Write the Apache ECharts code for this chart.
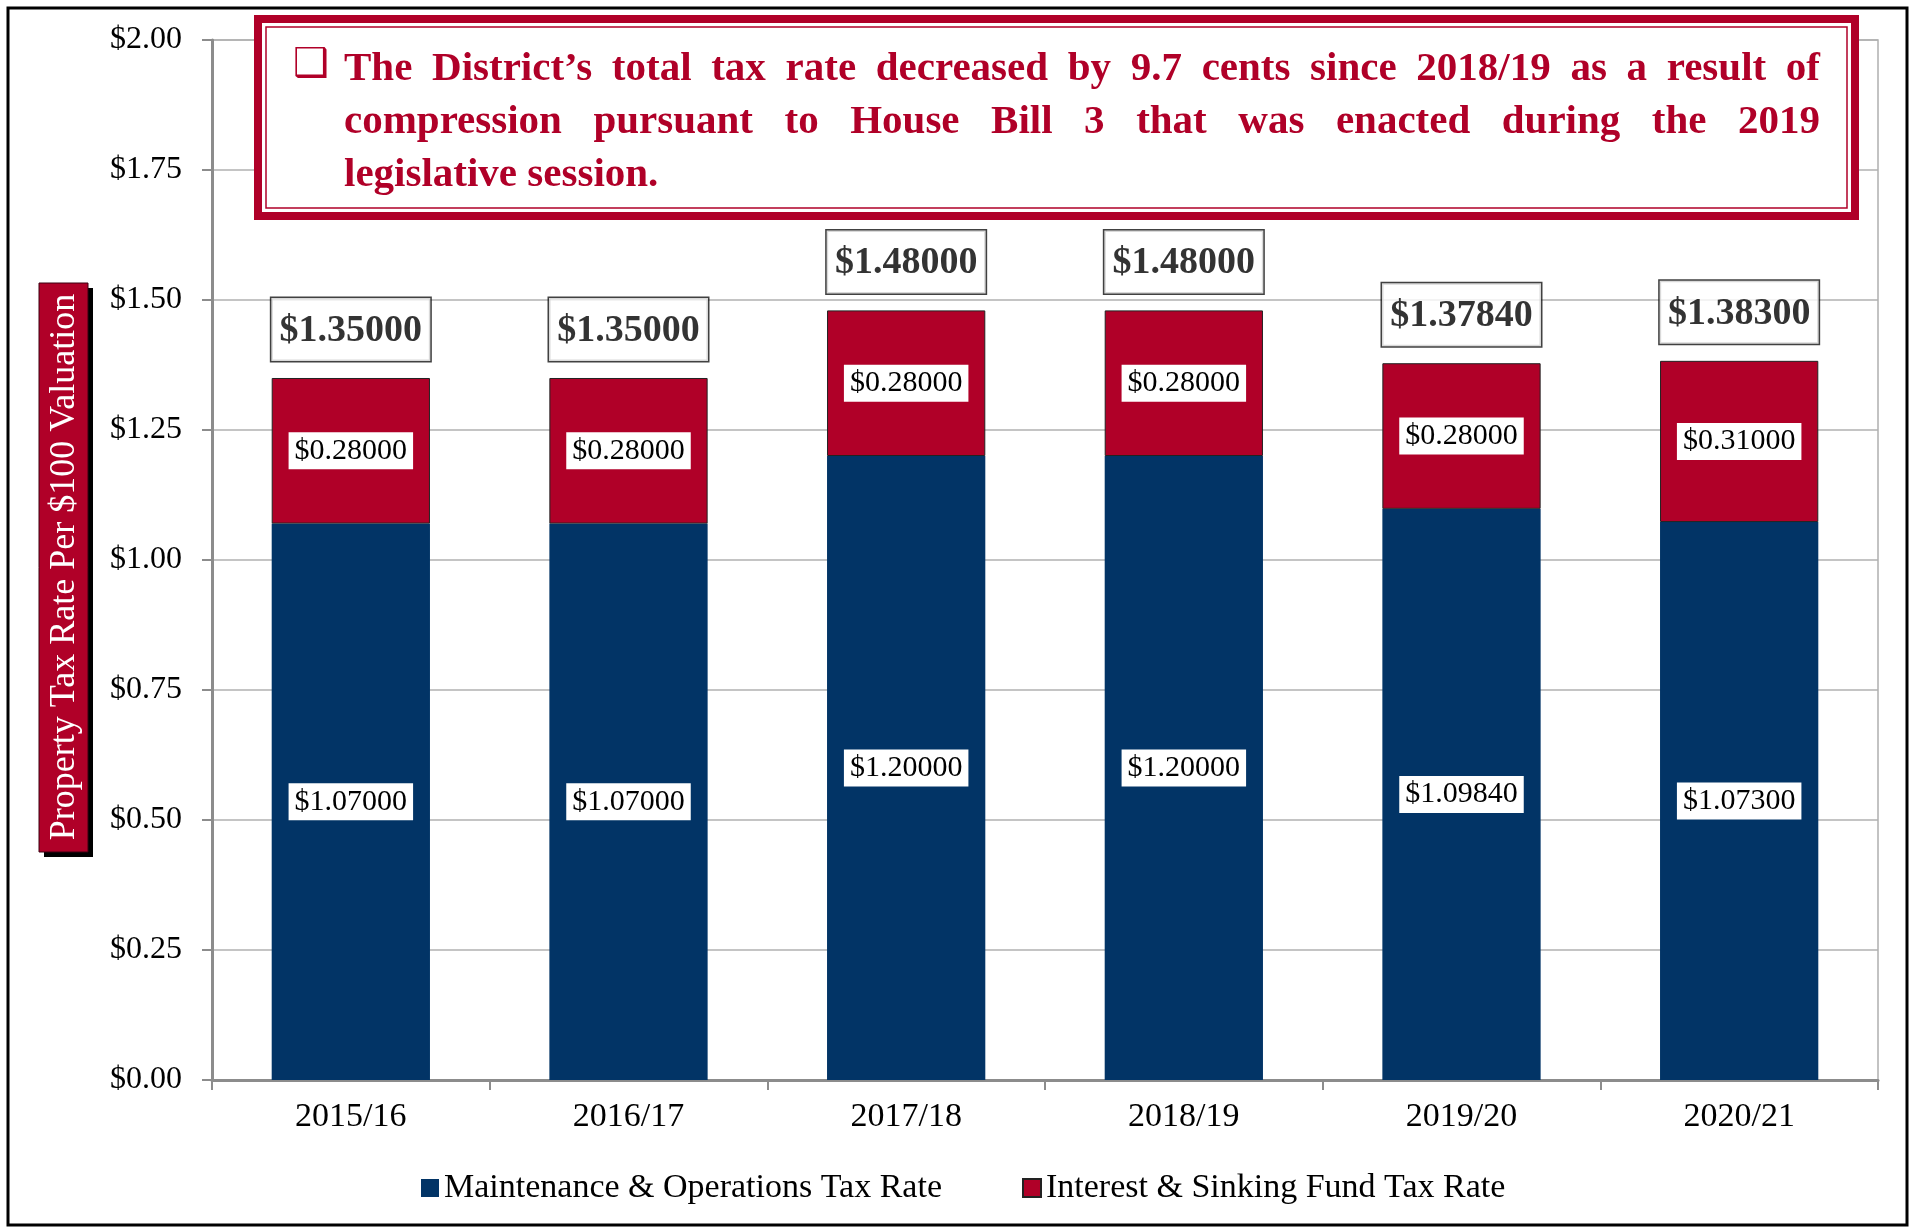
<!DOCTYPE html>
<html>
<head>
<meta charset="utf-8">
<script src="https://cdn.jsdelivr.net/npm/echarts@6/dist/echarts.min.js"></script>
<style>
  html, body { margin: 0; padding: 0; background: #fff; }
  #main { width: 1915px; height: 1229px; }
</style>
</head>
<body>
<div id="main"></div>
<script>
var years = ['2015/16', '2016/17', '2017/18', '2018/19', '2019/20', '2020/21'];
var moRate = [1.07, 1.07, 1.20, 1.20, 1.0984, 1.073];
var isRate = [0.28, 0.28, 0.28, 0.28, 0.28, 0.31];
var totalRate = [1.35, 1.35, 1.48, 1.48, 1.3784, 1.383];
var yTicks = { min: 0, max: 2, step: 0.25 };

var noteLines = [
  'The District\u2019s total tax rate decreased by 9.7 cents since 2018/19 as a result of',
  'compression pursuant to House Bill 3 that was enacted during the 2019',
  'legislative session.'
];

var NAVY = '#023466';
var RED = '#B00028';
var SERIF = '"Liberation Serif", "Times New Roman", serif';

function money(v) { return '$' + v.toFixed(5); }

// lay out the note text justified (except the last line), like the Word box
var measureCtx = document.createElement('canvas').getContext('2d');
function noteGraphics() {
  var x0 = 344, x1 = 1820;
  var ys = [69, 122, 175];
  var size = 41;
  var font = function (s) { return 'bold ' + s + 'px ' + SERIF; };
  measureCtx.font = font(size);
  while (measureCtx.measureText(noteLines[0]).width > x1 - x0 && size > 20) {
    size -= 1;
    measureCtx.font = font(size);
  }
  var els = [];
  noteLines.forEach(function (line, i) {
    var words = line.split(' ');
    var widths = words.map(function (w) { return measureCtx.measureText(w).width; });
    var total = widths.reduce(function (a, b) { return a + b; }, 0);
    var last = i === noteLines.length - 1;
    var gap = last ? measureCtx.measureText(' ').width : (x1 - x0 - total) / (words.length - 1);
    var x = x0;
    words.forEach(function (w, k) {
      els.push({
        type: 'text', x: x, y: ys[i], z: 20,
        style: { text: w, fill: RED, font: font(size), align: 'left', verticalAlign: 'middle' }
      });
      x += widths[k] + gap;
    });
  });
  return els;
}

var chart = echarts.init(document.getElementById('main'));

var option = {
  backgroundColor: '#fff',
  animation: false,
  textStyle: { fontFamily: SERIF },
  grid: {
    left: 212, right: 37, top: 40, bottom: 149,
    show: true, borderColor: '#b0b0b0', borderWidth: 1.5, backgroundColor: 'transparent'
  },
  legend: {
    data: ['Maintenance & Operations Tax Rate', 'Interest & Sinking Fund Tax Rate'],
    left: 416, top: 1166,
    itemWidth: 18, itemHeight: 18, itemGap: 80,
    icon: 'rect',
    textStyle: { fontFamily: SERIF, fontSize: 34, color: '#000' }
  },
  xAxis: {
    type: 'category',
    data: years,
    axisLine: { lineStyle: { color: '#8c8c8c', width: 3 } },
    axisTick: { show: true, length: 10, lineStyle: { color: '#8c8c8c', width: 2 } },
    axisLabel: { fontFamily: SERIF, fontSize: 34, color: '#000', margin: 20 }
  },
  yAxis: {
    type: 'value',
    min: yTicks.min, max: yTicks.max, interval: yTicks.step,
    axisLine: { show: true, lineStyle: { color: '#8c8c8c', width: 3 } },
    axisTick: { show: true, length: 10, lineStyle: { color: '#8c8c8c', width: 2 } },
    splitLine: { lineStyle: { color: '#b0b0b0', width: 1.5 } },
    axisLabel: {
      fontFamily: SERIF, fontSize: 32, color: '#000', margin: 30,
      formatter: function (v) { return '$' + v.toFixed(2); }
    }
  },
  series: [
    {
      name: 'Maintenance & Operations Tax Rate',
      type: 'bar', stack: 'rate',
      data: moRate,
      barCategoryGap: '43%',
      itemStyle: { color: NAVY },
      label: {
        show: true, position: 'inside',
        formatter: function (p) { return money(p.value); },
        fontFamily: SERIF, fontSize: 30, color: '#000',
        backgroundColor: '#fff', padding: [4, 6, 3, 6]
      }
    },
    {
      name: 'Interest & Sinking Fund Tax Rate',
      type: 'bar', stack: 'rate',
      data: isRate,
      barCategoryGap: '43%',
      itemStyle: { color: RED, borderColor: '#222', borderWidth: 1 },
      label: {
        show: true, position: 'inside',
        formatter: function (p) { return money(p.value); },
        fontFamily: SERIF, fontSize: 30, color: '#000',
        backgroundColor: '#fff', padding: [4, 6, 3, 6]
      }
    },
    {
      name: 'Total',
      type: 'scatter',
      data: totalRate,
      symbolSize: 0,
      silent: true,
      label: {
        show: true, position: 'top', distance: 17,
        formatter: function (p) { return money(p.value); },
        fontFamily: SERIF, fontSize: 38, fontWeight: 'bold', color: '#000',
        width: 151, align: 'center',
        backgroundColor: '#fff', borderColor: '#111', borderWidth: 1.5,
        padding: [14, 4, 11, 4]
      }
    }
  ],
  graphic: [
    // outer frame
    { type: 'rect', shape: { x: 8, y: 8, width: 1899, height: 1217 }, z: 30,
      style: { fill: 'none', stroke: '#000', lineWidth: 3 } },
    // note box
    { type: 'rect', shape: { x: 258, y: 19, width: 1597, height: 197 }, z: 15,
      style: { fill: '#fff', stroke: RED, lineWidth: 8 } },
    { type: 'rect', shape: { x: 266, y: 27, width: 1581, height: 181 }, z: 16,
      style: { fill: 'none', stroke: RED, lineWidth: 1.5 } },
    { type: 'text', x: 311, y: 66, z: 20,
      style: { text: '\u2751', fill: RED, font: 'bold 40px "DejaVu Sans"', align: 'center', verticalAlign: 'middle' } },
    // y axis title box with shadow
    { type: 'rect', shape: { x: 44, y: 288, width: 49, height: 569 }, z: 15,
      style: { fill: '#000' } },
    { type: 'rect', shape: { x: 39, y: 283, width: 49, height: 569 }, z: 16,
      style: { fill: RED, stroke: '#3a0010', lineWidth: 1 } },
    { type: 'text', x: 65, y: 567, rotation: Math.PI / 2, z: 17,
      style: { text: 'Property Tax Rate Per $100 Valuation', fill: '#fff',
        font: '36px ' + SERIF, align: 'center', verticalAlign: 'middle' } }
  ].concat(noteGraphics())
};

chart.setOption(option);
</script>
</body>
</html>
